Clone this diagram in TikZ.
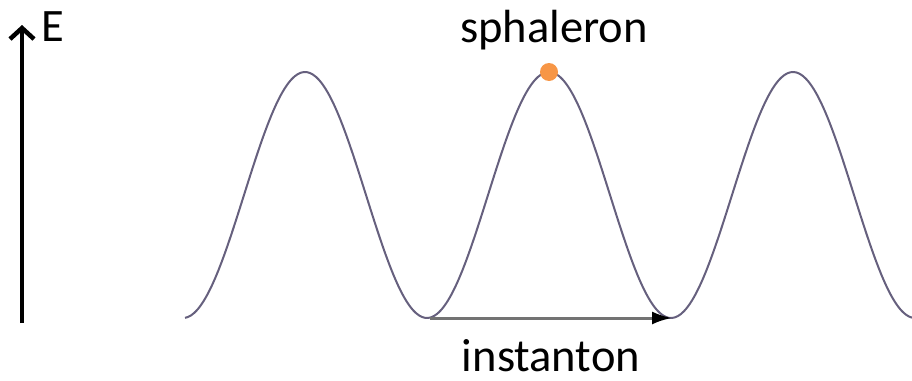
\documentclass[tikz,border=0pt]{standalone}
\usepackage{fontspec}
\setmainfont{Carlito}
\usepackage{tikz}
\usetikzlibrary{arrows.meta,positioning}
\definecolor{wellgray}{HTML}{66607E}
\definecolor{dotorange}{HTML}{F79646}

\begin{document}
\begin{tikzpicture}[
      x=1pt, y=-1pt,
      font=\fontsize{46.5}{50}\selectfont,
      lbl/.style={anchor=base, inner sep=0pt},
      potential/.style={draw=wellgray, line width=2pt},
      eaxis/.style={-{Straight Barb[length=11pt, width=24pt]}, line width=4.5pt},
      tunnel/.style={-{Latex[length=20pt, width=13pt, black]}, draw=black!55, line width=3pt},
      saddle/.style={circle, fill=dotorange, inner sep=0pt, minimum size=18pt}
    ]
    \useasboundingbox (0,0) rectangle (912,380);

    % energy axis
    \coordinate (elow) at (22,323);
    \coordinate (ehigh) at (22,25);
    \draw[eaxis] (elow) -- (ehigh);
    \node[lbl] (elabel) at (53,41) {E};

    % periodic potential
    \draw[potential] plot[domain=185:912, samples=240, smooth]
      (\x, {195-123*cos(1.47541*(\x-305))});

    \coordinate (vacl) at (430,318);
    \coordinate (vacr) at (672,318);
    \node[saddle] (top) at (549,72) {};

    \node[lbl] (sph) at (554,42) {sphaleron};
    \node[lbl] (inst) at (551,371) {instanton};

    % tunnelling between neighbouring vacua
    \draw[tunnel] (vacl) -- (vacr);
  \end{tikzpicture}
\end{document}
